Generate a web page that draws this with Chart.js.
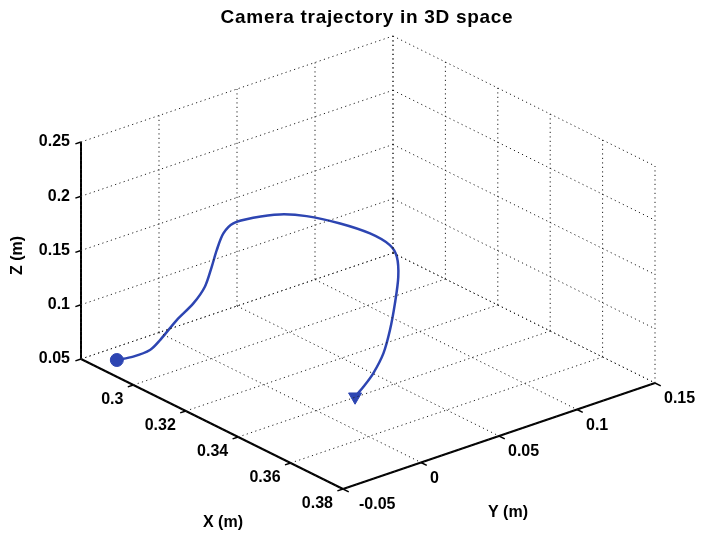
<!DOCTYPE html>
<html>
<head>
<meta charset="utf-8">
<script src="https://cdn.jsdelivr.net/npm/chart.js@4"></script>
<style>
  html, body { margin: 0; padding: 0; background: #fff; }
  #wrap { width: 702px; height: 537px; }
</style>
</head>
<body>
<div id="wrap"><canvas id="myChart"></canvas></div>
<script>
// trajectory samples (metres)
const trajX = [0.2885, 0.2910, 0.2940, 0.2960, 0.2969, 0.2993, 0.3009, 0.3003, 0.3009, 0.3032, 0.3061, 0.3106, 0.3142,
               0.3191, 0.3267, 0.3344, 0.3403, 0.3428, 0.3462, 0.3479, 0.3494, 0.3491, 0.3482, 0.3454, 0.3437];
const trajY = [-0.0413, -0.0350, -0.0293, -0.0262, -0.0170, -0.0104, -0.0057, -0.0003, 0.0019, 0.0023, 0.0038, 0.0090, 0.0201,
               0.0289, 0.0377, 0.0439, 0.0467, 0.0470, 0.0422, 0.0372, 0.0315, 0.0278, 0.0228, 0.0212, 0.0187];
const trajZ = [0.055, 0.058, 0.065, 0.075, 0.090, 0.105, 0.120, 0.135, 0.150, 0.168, 0.180, 0.188, 0.190,
               0.190, 0.188, 0.185, 0.180, 0.172, 0.160, 0.140, 0.120, 0.100, 0.083, 0.068, 0.058];

const xTicks = [0.30, 0.32, 0.34, 0.36, 0.38];
const yTicks = [-0.05, 0, 0.05, 0.1, 0.15];
const zTicks = [0.05, 0.1, 0.15, 0.2, 0.25];
const xTickLabels = ['0.3', '0.32', '0.34', '0.36', '0.38'];
const yTickLabels = ['-0.05', '0', '0.05', '0.1', '0.15'];
const zTickLabels = ['0.05', '0.1', '0.15', '0.2', '0.25'];

const xLim = [0.28, 0.38];
const yLim = [-0.05, 0.15];
const zLim = [0.05, 0.25];

// view: corner (xmin,ymin,zmin) and the screen vectors spanned by each axis
const view = {
    ox: 81, oy: 359,
    ex: [262, 130],
    ey: [312, -106],
    ez: [0, -217]
};

function project(x, y, z) {
    const a = (x - xLim[0]) / (xLim[1] - xLim[0]);
    const b = (y - yLim[0]) / (yLim[1] - yLim[0]);
    const c = (z - zLim[0]) / (zLim[1] - zLim[0]);
    return {
        x: view.ox + a * view.ex[0] + b * view.ey[0] + c * view.ez[0],
        y: view.oy + a * view.ex[1] + b * view.ey[1] + c * view.ez[1]
    };
}

const gridStyle = { borderColor: '#222', borderWidth: 1, borderDash: [1.2, 3.3] };
const axisStyle = { borderColor: '#000', borderWidth: 2, borderDash: [] };

function seg(p, q, style) {
    return Object.assign({
        data: [project(...p), project(...q)],
        showLine: true,
        pointRadius: 0,
        fill: false
    }, style);
}

const datasets = [];

// dotted grid on the three back planes
const xGrid = [xLim[0]].concat(xTicks);
xGrid.forEach(x => {
    datasets.push(seg([x, yLim[0], zLim[0]], [x, yLim[1], zLim[0]], gridStyle));
    datasets.push(seg([x, yLim[1], zLim[0]], [x, yLim[1], zLim[1]], gridStyle));
});
yTicks.forEach(y => {
    datasets.push(seg([xLim[0], y, zLim[0]], [xLim[1], y, zLim[0]], gridStyle));
    datasets.push(seg([xLim[0], y, zLim[0]], [xLim[0], y, zLim[1]], gridStyle));
});
zTicks.forEach(z => {
    datasets.push(seg([xLim[0], yLim[0], z], [xLim[0], yLim[1], z], gridStyle));
    datasets.push(seg([xLim[0], yLim[1], z], [xLim[1], yLim[1], z], gridStyle));
});

// solid front axes
datasets.push(seg([xLim[0], yLim[0], zLim[0]], [xLim[0], yLim[0], zLim[1]], axisStyle));
datasets.push(seg([xLim[0], yLim[0], zLim[0]], [xLim[1], yLim[0], zLim[0]], axisStyle));
datasets.push(seg([xLim[1], yLim[0], zLim[0]], [xLim[1], yLim[1], zLim[0]], axisStyle));

// tick marks, a small step along the neighbouring axis
const tickX = (xLim[1] - xLim[0]) * 0.022;
const tickY = (yLim[1] - yLim[0]) * 0.018;
const tickStyle = { borderColor: '#000', borderWidth: 1.5, borderDash: [] };
zTicks.forEach(z => datasets.push(seg([xLim[0], yLim[0], z], [xLim[0], yLim[0] - tickY, z], tickStyle)));
xTicks.forEach(x => datasets.push(seg([x, yLim[0], zLim[0]], [x, yLim[0] - tickY, zLim[0]], tickStyle)));
yTicks.forEach(y => datasets.push(seg([xLim[1], y, zLim[0]], [xLim[1] + tickX, y, zLim[0]], tickStyle)));

// the trajectory
const blue = '#2d45b2';
const path = trajX.map((x, i) => project(x, trajY[i], trajZ[i]));
datasets.push({
    data: path,
    showLine: true,
    borderColor: blue,
    borderWidth: 2.5,
    tension: 0.3,
    pointRadius: 0,
    fill: false
});
datasets.push({
    data: [path[0]],
    pointStyle: 'circle',
    pointRadius: 6.5,
    backgroundColor: blue,
    borderColor: blue
});
datasets.push({
    data: [path[path.length - 1]],
    pointStyle: 'triangle',
    rotation: 180,
    pointRadius: 7.5,
    backgroundColor: blue,
    borderColor: blue
});

// tick labels, axis labels and title
const labelPlugin = {
    id: 'axisText',
    afterDraw(chart) {
        const ctx = chart.ctx;
        const sx = chart.scales.x, sy = chart.scales.y;
        const px = p => ({ x: sx.getPixelForValue(p.x), y: sy.getPixelForValue(p.y) });
        ctx.save();
        ctx.fillStyle = '#000';
        ctx.font = 'bold 16px "Liberation Sans", Arial, sans-serif';
        ctx.textBaseline = 'middle';

        ctx.textAlign = 'right';
        zTicks.forEach((z, i) => {
            const p = px(project(xLim[0], yLim[0], z));
            ctx.fillText(zTickLabels[i], p.x - 11, p.y);
        });
        xTicks.forEach((x, i) => {
            const p = px(project(x, yLim[0], zLim[0]));
            ctx.fillText(xTickLabels[i], p.x - 10, p.y + 15);
        });
        ctx.textAlign = 'left';
        yTicks.forEach((y, i) => {
            const p = px(project(xLim[1], y, zLim[0]));
            ctx.fillText(yTickLabels[i], p.x + (i === 0 ? 16 : 9), p.y + 16);
        });

        ctx.textAlign = 'center';
        const xl = px(project((xLim[0] + xLim[1]) / 2, yLim[0], zLim[0]));
        ctx.fillText('X (m)', xl.x + 11, xl.y + 99);
        const yl = px(project(xLim[1], (yLim[0] + yLim[1]) / 2, zLim[0]));
        ctx.fillText('Y (m)', yl.x + 9, yl.y + 77);
        ctx.save();
        const zl = px(project(xLim[0], yLim[0], (zLim[0] + zLim[1]) / 2));
        ctx.translate(zl.x - 63, zl.y + 5);
        ctx.rotate(-Math.PI / 2);
        ctx.fillText('Z (m)', 0, 0);
        ctx.restore();

        ctx.font = 'bold 19px "Liberation Sans", Arial, sans-serif';
        ctx.letterSpacing = '0.7px';
        ctx.fillText('Camera trajectory in 3D space', 367, 18);
        ctx.restore();
    }
};

new Chart(document.getElementById('myChart').getContext('2d'), {
    type: 'scatter',
    data: { datasets: datasets },
    options: {
        responsive: true,
        maintainAspectRatio: false,
        animation: false,
        layout: { padding: 0, autoPadding: false },
        plugins: {
            legend: { display: false },
            tooltip: { enabled: false },
            title: { display: false }
        },
        scales: {
            x: { type: 'linear', min: 0, max: 702, display: false },
            y: { type: 'linear', min: 0, max: 537, reverse: true, display: false }
        }
    },
    plugins: [labelPlugin]
});
</script>
</body>
</html>
